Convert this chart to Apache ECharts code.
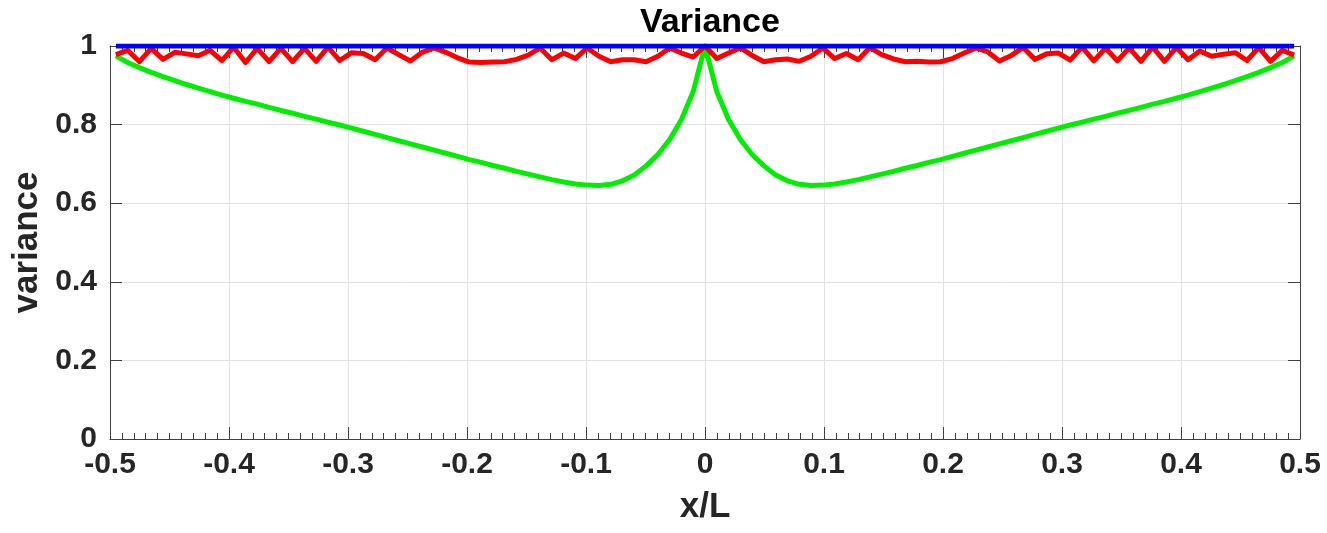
<!DOCTYPE html>
<html>
<head>
<meta charset="utf-8">
<script src="https://cdn.jsdelivr.net/npm/echarts@6/dist/echarts.min.js"></script>
<style>
  html, body { margin: 0; padding: 0; background: #ffffff; }
  #chart { width: 1327px; height: 533px; }
</style>
</head>
<body>
<div id="chart"></div>
<script>
// Tick labels
const xTickLabels = ['-0.5', '-0.4', '-0.3', '-0.2', '-0.1', '0', '0.1', '0.2', '0.3', '0.4', '0.5'];
const yTickLabels = ['0', '0.2', '0.4', '0.6', '0.8', '1'];

// Variance profiles sampled on 101 cell centres across x/L
const redVar = [
  0.978, 0.989, 0.960, 0.994, 0.966, 0.984, 0.980, 0.975, 0.989, 0.963,
  0.997, 0.958, 0.994, 0.960, 0.994, 0.960, 0.994, 0.961, 0.997, 0.963,
  0.983, 0.981, 0.965, 0.995, 0.978, 0.962, 0.984, 0.995, 0.984, 0.970,
  0.959, 0.958, 0.959, 0.960, 0.966, 0.977, 0.995, 0.965, 0.982, 0.968,
  0.995, 0.974, 0.960, 0.965, 0.965, 0.960, 0.974, 0.995, 0.982, 0.972,
  1.000,
  0.968, 0.982, 0.995, 0.976, 0.960, 0.965, 0.967, 0.961, 0.974, 0.995,
  0.968, 0.981, 0.965, 0.996, 0.978, 0.967, 0.960, 0.961, 0.959, 0.960,
  0.968, 0.982, 0.995, 0.985, 0.962, 0.976, 0.996, 0.966, 0.980, 0.982,
  0.964, 0.997, 0.962, 0.995, 0.962, 0.995, 0.961, 0.997, 0.961, 0.996,
  0.965, 0.987, 0.974, 0.979, 0.983, 0.963, 0.996, 0.961, 0.989, 0.977
];

const greenVar = [
  0.975, 0.958, 0.945, 0.933, 0.922, 0.912, 0.902, 0.893, 0.884, 0.875,
  0.867, 0.859, 0.852, 0.844, 0.836, 0.829, 0.821, 0.814, 0.806, 0.799,
  0.791, 0.783, 0.775, 0.767, 0.759, 0.751, 0.743, 0.735, 0.727, 0.719,
  0.711, 0.704, 0.696, 0.689, 0.681, 0.674, 0.667, 0.660, 0.654, 0.649,
  0.646, 0.645, 0.648, 0.657, 0.672, 0.695, 0.724, 0.762, 0.813, 0.884,
  1.000,
  0.884, 0.813, 0.762, 0.724, 0.695, 0.672, 0.657, 0.648, 0.645, 0.646,
  0.649, 0.654, 0.660, 0.667, 0.674, 0.681, 0.689, 0.696, 0.704, 0.711,
  0.719, 0.727, 0.735, 0.743, 0.751, 0.759, 0.767, 0.775, 0.783, 0.791,
  0.799, 0.806, 0.814, 0.821, 0.829, 0.836, 0.844, 0.852, 0.859, 0.867,
  0.875, 0.884, 0.893, 0.902, 0.912, 0.922, 0.933, 0.945, 0.958, 0.975
];

const blueVar = [
  1, 1, 1, 1, 1, 1, 1, 1, 1, 1,
  1, 1, 1, 1, 1, 1, 1, 1, 1, 1,
  1, 1, 1, 1, 1, 1, 1, 1, 1, 1,
  1, 1, 1, 1, 1, 1, 1, 1, 1, 1,
  1, 1, 1, 1, 1, 1, 1, 1, 1, 1,
  1,
  1, 1, 1, 1, 1, 1, 1, 1, 1, 1,
  1, 1, 1, 1, 1, 1, 1, 1, 1, 1,
  1, 1, 1, 1, 1, 1, 1, 1, 1, 1,
  1, 1, 1, 1, 1, 1, 1, 1, 1, 1,
  1, 1, 1, 1, 1, 1, 1, 1, 1, 1
];

// Cell-centre positions x/L for the 101-cell grid
const nCells = redVar.length;
const xGrid = redVar.map((_, i) => (i - (nCells - 1) / 2) / nCells);
const toPairs = ys => ys.map((y, i) => [xGrid[i], y]);

const font = '"Liberation Sans", Arial, Helvetica, sans-serif';
const axisColor = '#404040';
const labelColor = '#262626';
const gridColor = '#e2e2e2';

const frameAxisX = (position) => ({
  type: 'value', min: -0.5, max: 0.5, interval: 0.1, position: position,
  axisLine: { show: true, onZero: false, lineStyle: { color: axisColor, width: 1 } },
  axisTick: { show: true, inside: true, length: 12, lineStyle: { color: axisColor, width: 1 } },
  minorTick: { show: true, splitNumber: 10, length: 6, lineStyle: { color: axisColor, width: 1 } },
  splitLine: { show: false },
  axisLabel: { show: false }
});

const chart = echarts.init(document.getElementById('chart'), null, { renderer: 'canvas' });
chart.setOption({
  animation: false,
  backgroundColor: '#ffffff',
  title: {
    text: 'Variance',
    left: 705, top: 1, textAlign: 'center',
    textStyle: { fontFamily: font, fontSize: 34, fontWeight: 'bold', color: '#000000' }
  },
  grid: { left: 110, right: 27, top: 46, bottom: 94, outerBoundsMode: 'none', containLabel: false },
  xAxis: [
    Object.assign(frameAxisX('bottom'), {
      splitLine: { show: true, lineStyle: { color: gridColor, width: 1 } },
      axisLabel: {
        show: true, margin: 11, fontFamily: font, fontSize: 30, fontWeight: 'bold', color: labelColor,
        formatter: v => xTickLabels[Math.round((v + 0.5) * 10)]
      },
      name: 'x/L', nameLocation: 'middle', nameGap: 51,
      nameTextStyle: { fontFamily: font, fontSize: 35, fontWeight: 'bold', color: labelColor }
    }),
    frameAxisX('top')
  ],
  yAxis: [
    {
      type: 'value', min: 0, max: 1, interval: 0.2, position: 'left',
      axisLine: { show: true, onZero: false, lineStyle: { color: axisColor, width: 1 } },
      axisTick: { show: true, inside: true, length: 12, lineStyle: { color: axisColor, width: 1 } },
      splitLine: { show: true, lineStyle: { color: gridColor, width: 1 } },
      axisLabel: {
        show: true, margin: 13, fontFamily: font, fontSize: 30, fontWeight: 'bold', color: labelColor,
        formatter: v => yTickLabels[Math.round(v * 5)]
      },
      name: 'variance', nameLocation: 'middle', nameGap: 62, nameRotate: 90,
      nameTextStyle: { fontFamily: font, fontSize: 35, fontWeight: 'bold', color: labelColor }
    },
    {
      type: 'value', min: 0, max: 1, interval: 0.2, position: 'right',
      axisLine: { show: true, onZero: false, lineStyle: { color: axisColor, width: 1 } },
      axisTick: { show: true, inside: true, length: 12, lineStyle: { color: axisColor, width: 1 } },
      splitLine: { show: false },
      axisLabel: { show: false }
    }
  ],
  series: [
    {
      name: 'green', type: 'line', xAxisIndex: 0, yAxisIndex: 0,
      data: toPairs(greenVar), showSymbol: false, symbol: 'none',
      lineStyle: { color: '#00ee00', width: 5 }, z: 3
    },
    {
      name: 'red', type: 'line', xAxisIndex: 0, yAxisIndex: 0,
      data: toPairs(redVar), showSymbol: false, symbol: 'none',
      lineStyle: { color: '#ff0000', width: 5, join: 'round' }, z: 4
    },
    {
      name: 'blue', type: 'line', xAxisIndex: 0, yAxisIndex: 0,
      data: toPairs(blueVar), showSymbol: false, symbol: 'none',
      lineStyle: { color: '#0000ff', width: 5 }, z: 5
    }
  ]
});
</script>
</body>
</html>
